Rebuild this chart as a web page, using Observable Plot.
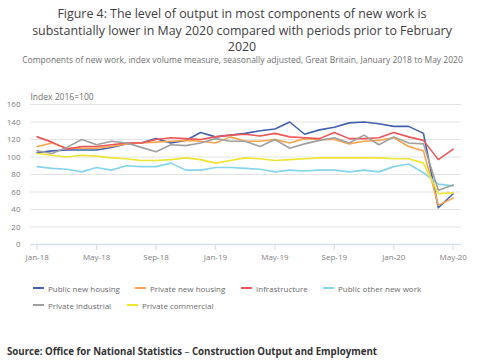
<!DOCTYPE html>
<html>
<head>
<meta charset="utf-8">
<script src="https://cdn.jsdelivr.net/npm/d3@7"></script>
<script src="https://cdn.jsdelivr.net/npm/@observablehq/plot@0.6"></script>
<style>
  html, body { margin: 0; padding: 0; background: #fff; }
  body { width: 485px; height: 360px; position: relative; overflow: hidden; font-family: "Open Sans", sans-serif; }
  #title { position: absolute; top: 6px; left: 22px; width: 440px; text-align: center; font-size: 12.4px; line-height: 16.5px; color: #414042; }
  #subtitle { position: absolute; top: 54px; left: 0; width: 485px; text-align: center; font-size: 8.5px; color: #707070; }
  #chart { position: absolute; top: 80px; left: 0; }
  #legend { position: absolute; top: 281px; left: 0; width: 485px; height: 40px; font-size: 8px; color: #6a6a6a; }
  .item { position: absolute; display: flex; align-items: center; height: 14px; white-space: nowrap; }
  .sw { width: 11px; height: 2px; margin-right: 4px; display: inline-block; }
  #source { position: absolute; top: 345px; left: 7px; font-size: 9.7px; color: #333; white-space: nowrap; }
</style>
</head>
<body>
<div id="title">Figure 4: The level of output in most components of new work is substantially lower in May 2020 compared with periods prior to February 2020</div>
<div id="subtitle">Components of new work, index volume measure, seasonally adjusted, Great Britain, January 2018 to May 2020</div>
<div id="chart"></div>
<div id="legend"></div>
<div id="source"><b>Source: Office for National Statistics</b> – <b>Construction Output and Employment</b></div>
<script>
const monthLabels = ["Jan-18","Feb-18","Mar-18","Apr-18","May-18","Jun-18","Jul-18","Aug-18","Sep-18","Oct-18","Nov-18","Dec-18",
  "Jan-19","Feb-19","Mar-19","Apr-19","May-19","Jun-19","Jul-19","Aug-19","Sep-19","Oct-19","Nov-19","Dec-19",
  "Jan-20","Feb-20","Mar-20","Apr-20","May-20"];
const tickLabels = ["Jan-18","May-18","Sep-18","Jan-19","May-19","Sep-19","Jan-20","May-20"];
const seriesNames = ["Public new housing","Private new housing","Infrastructure","Public other new work","Private industrial","Private commercial"];
const seriesColors = ["#4361ad","#f9a54e","#ec5658","#86d4ec","#a0a0a0","#eee52e"];

const publicNewHousing = [105,107,108,108,108,111,115,116,121,116,119,128,123,125,127,130,132,140,126,131,134,139,140,138,135,135,127,42,58];
const privateNewHousing = [112,116,110,110,110,112,115,116,117,118,119,118,116,123,118,118,120,116,121,120,120,115,118,119,122,112,107,45,53];
const infrastructure = [123,117,109,112,112,114,116,116,120,122,121,120,123,125,126,124,127,123,122,121,128,121,121,122,128,123,119,97,109];
const publicOtherNewWork = [89,87,86,83,88,85,90,89,89,93,85,85,88,88,87,86,83,85,84,85,85,83,85,83,89,92,82,69,67];
const privateIndustrial = [107,104,111,120,114,118,116,111,106,114,113,116,121,118,118,112,120,110,115,119,122,116,125,114,123,116,115,62,68];
const privateCommercial = [104,102,100,102,101,99,98,96,96,97,99,97,93,96,99,98,96,97,98,99,99,99,99,99,98,98,93,58,59];

const yTicks = [0,20,40,60,80,100,120,140,160];
const yLabel = "Index 2016=100";

const allSeries = [publicNewHousing, privateNewHousing, infrastructure, publicOtherNewWork, privateIndustrial, privateCommercial];
const data = [];
allSeries.forEach((vals, s) => vals.forEach((v, i) => data.push({series: seriesNames[s], i, month: monthLabels[i], value: v})));
const tickIdx = tickLabels.map(t => monthLabels.indexOf(t));

const chart = Plot.plot({
  width: 485,
  height: 200,
  marginLeft: 30,
  marginRight: 24,
  marginTop: 24,
  marginBottom: 36,
  style: {fontFamily: "'Open Sans', sans-serif", fontSize: "8px", color: "#808080", background: "transparent"},
  x: {type: "linear", domain: [-0.45, 28.56], label: null},
  y: {domain: [0, 160], label: null},
  color: {domain: seriesNames, range: seriesColors},
  marks: [
    Plot.gridY(yTicks.filter(d => d > 0), {stroke: "#e3e3e3", strokeOpacity: 1, strokeWidth: 1}),
    Plot.ruleY([0], {stroke: "#d6ddef", strokeWidth: 1.5}),
    Plot.ruleX(tickIdx, {x: d => d, y: 0, stroke: "#d6ddef", strokeWidth: 1.2, insetTop: 0, insetBottom: -6}),
    Plot.axisX({ticks: tickIdx, tickFormat: d => monthLabels[d], tickSize: 0, tickPadding: 10, fill: "#808080"}),
    Plot.axisY({ticks: yTicks, tickSize: 0, tickPadding: 10, fill: "#808080"}),
    Plot.line(data, {x: "i", y: "value", z: "series", stroke: "series", strokeWidth: 1.6}),
    Plot.text([yLabel], {frameAnchor: "top-left", text: d => d, dy: -11, fill: "#707070", fontSize: 8.5, textAnchor: "start"})
  ]
});
document.getElementById("chart").appendChild(chart);

const legend = document.getElementById("legend");
const legendPos = [[33,0],[135,0],[241,0],[323,0],[33,17],[127,17]];
seriesNames.forEach((name, k) => {
  const it = document.createElement("span");
  it.className = "item";
  it.style.left = legendPos[k][0] + "px";
  it.style.top = legendPos[k][1] + "px";
  const sw = document.createElement("span");
  sw.className = "sw";
  sw.style.background = seriesColors[k];
  it.appendChild(sw);
  it.appendChild(document.createTextNode(name));
  legend.appendChild(it);
});
</script>
</body>
</html>
